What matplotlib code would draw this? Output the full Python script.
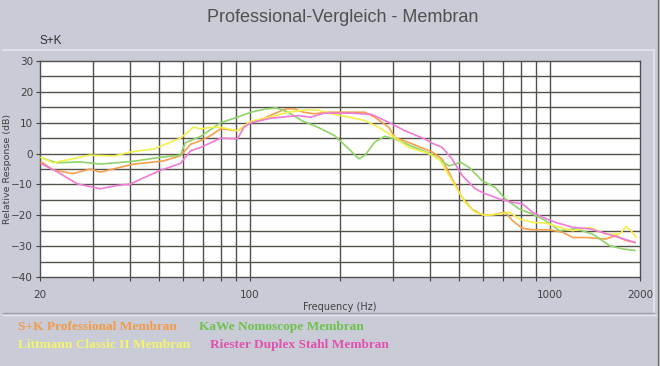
import matplotlib
matplotlib.use("Agg")
import matplotlib.pyplot as plt
from matplotlib.lines import Line2D
from matplotlib.ticker import FixedLocator

# S+K Professional Membran (orange)
f_sk = [20.2, 22.1, 25.8, 29.4, 31.8, 41, 51.6, 58.8, 63.5, 68.7, 74, 80, 91, 101, 112, 124,
        132, 141, 151, 164, 183, 202, 242, 261, 291, 305, 339, 384, 405, 438, 473, 511, 551,
        596, 643, 711, 751, 811, 876, 999, 1104, 1193, 1318, 1538, 1662, 1795, 1924]
db_sk = [-2.7, -5.3, -6.5, -5, -6, -3.4, -2.4, -0.7, 3, 4.2, 5.8, 8, 7.4, 10, 11.5, 13.4,
         14.5, 14.5, 13.4, 12.9, 13.4, 13.4, 13.4, 11.8, 8.5, 5.2, 3.6, 1.4, 0.6, -1.8, -8.2, -14.2, -18,
         -19.9, -19.9, -19, -21.7, -24.2, -24.7, -24.7, -25.5, -27.2, -27.2, -27.7, -26.6, -28.2, -28.8]

# KaWe Nomoscope Membran (green)
f_kawe = [20.2, 22.8, 27.2, 31.8, 41, 50.5, 58.8, 61, 68.7, 80, 91, 101, 112, 122.5, 134, 149,
          169, 192, 214, 231, 242, 261, 282, 305, 347, 405, 430, 462, 505, 539, 596, 659, 711,
          793, 876, 968, 1079, 1221, 1392, 1588, 1754, 1924]
db_kawe = [-1.4, -3, -2.7, -3.4, -2.5, -1.2, -0.5, 3.5, 5.6, 10, 11.8, 13.4, 14.4, 14.8, 13.5, 10.7,
           8.5, 5.8, 1.5, -1.7, -0.6, 3.7, 5.6, 4.7, 2.4, -0.3, -2, -4, -2.8, -4.5, -8.8, -11, -14.7,
           -18, -19.6, -21.7, -25, -24.4, -26.1, -29.9, -30.9, -31.4]

# Littmann Classic II Membran (yellow)
f_litt = [20.2, 22.1, 29.4, 35.3, 40, 47.9, 58.8, 65, 68.7, 74, 80, 91, 101, 118, 134, 152, 169,
          187, 214, 242, 269, 298, 339, 384, 405, 430, 448, 484, 522, 564, 610, 679, 734, 793,
          876, 968, 1079, 1193, 1360, 1538, 1714, 1795, 1866, 1940]
db_litt = [-1.2, -3, -0.5, -0.8, 0.5, 1.5, 5, 8.6, 8, 8.5, 8.5, 7.4, 10.5, 11.9, 13.4, 14.1, 14.1,
           12.9, 11.8, 10.7, 8.5, 5.8, 2, 0.4, -0.5, -2, -5, -10.4, -15.8, -19, -20, -19.6, -19, -21.2,
           -22.3, -22.5, -23.9, -25, -23.9, -26.1, -26.1, -23.6, -25, -27.1]

# Riester Duplex Stahl Membran (pink)
f_ries = [20.2, 22.8, 26.6, 31.8, 36.3, 40, 44, 50.5, 58.8, 63.5, 68.7, 80, 91, 95.7, 101, 118,
          145, 160, 177, 219, 255, 291, 329, 384, 405, 438, 473, 511, 564, 610, 679, 751, 811,
          876, 946, 1046, 1193, 1360, 1624, 1924]
db_ries = [-3.3, -5.9, -9.8, -11.4, -10.3, -9.9, -8, -5.4, -3.2, 0.9, 2, 5, 4.8, 8.5, 10, 11.5,
           12.3, 11.8, 13.1, 13.1, 12.7, 10.1, 7.4, 4.7, 3.4, 2, -1.8, -7.1, -11.4, -13, -14.7, -15.8, -16.3,
           -19, -20.6, -22.3, -23.9, -24.4, -26.6, -28.8]

series = [
    ("S+K Professional Membran", f_sk, db_sk, "#f4a04c", "#f29a48"),
    ("KaWe Nomoscope Membran", f_kawe, db_kawe, "#8fd468", "#6cc24a"),
    ("Littmann Classic II Membran", f_litt, db_litt, "#f2f04a", "#f6f46a"),
    ("Riester Duplex Stahl Membran", f_ries, db_ries, "#f07ad8", "#e24fae"),
]

grid_freqs = [30, 40, 50, 60, 70, 80, 90, 100, 200, 300, 400, 500, 600, 700, 800, 900, 1000]
tick_labels = {20: "20", 100: "100", 1000: "1000", 2000: "2000"}

bg = "#c9ccd6"
fig = plt.figure(figsize=(6.6, 3.66), dpi=100, facecolor=bg)
ax = fig.add_axes([40 / 660, 1 - 277 / 366, 600 / 660, 216 / 366])
ax.set_facecolor("white")

for f in grid_freqs:
    ax.axvline(f, color="#52524a", lw=1.0, zorder=1)
for y in range(-35, 30, 5):
    ax.axhline(y, color="#52524a", lw=1.0, zorder=1)

for name, f, d, c, tc in series:
    ax.plot(f, d, color=c, lw=1.2, zorder=3)

ax.set_xscale("log")
ax.set_xlim(20, 2000)
ax.set_ylim(-40, 30)
xt = [20] + grid_freqs + [2000]
ax.xaxis.set_major_locator(FixedLocator(xt))
ax.xaxis.set_minor_locator(FixedLocator([]))
ax.set_xticklabels([tick_labels.get(v, "") for v in xt])
ax.set_yticks(range(-40, 31, 10))
ax.tick_params(axis="both", labelsize=7.5, labelcolor="#404040", color="#404040",
               length=3, width=0.8, direction="out", pad=2)
ax.tick_params(axis="x", pad=6)
for s in ax.spines.values():
    s.set_color("#505050")
    s.set_linewidth(1.0)

ax.set_xlabel("Frequency (Hz)", fontsize=7, color="#404040", labelpad=2)
ax.set_ylabel("Relative Response (dB)", fontsize=6.8, color="#404040")
ax.yaxis.set_label_coords(-28 / 600, 0.5)

fig.text(343 / 660, 1 - 18 / 366, "Professional-Vergleich - Membran", ha="center", va="center",
         fontsize=13, color="#505050", family="Liberation Sans")
fig.text(40 / 660, 1 - 41 / 366, "S+K", ha="left", va="center", fontsize=8.5,
         color="#303030", family="Liberation Sans")

# panel edges
fig.add_artist(Line2D([3 / 660, 654 / 660], [1 - 50 / 366, 1 - 50 / 366], color="#e4e6ec", lw=1.2))
fig.add_artist(Line2D([654 / 660, 654 / 660], [1 - 50 / 366, 1 - 313 / 366], color="#e4e6ec", lw=1.2))
fig.add_artist(Line2D([3 / 660, 654 / 660], [1 - 313 / 366, 1 - 313 / 366], color="#9a9ca6", lw=1.0))
fig.add_artist(Line2D([3 / 660, 656 / 660], [1 - 315 / 366, 1 - 315 / 366], color="#e4e6ec", lw=1.0))
fig.add_artist(Line2D([658 / 660, 658 / 660], [0, 1], color="#707070", lw=1.0))

legend_pos = [(18, 327), (199, 327), (18, 345), (210, 345)]
for (name, f, d, c, tc), (lx, ly) in zip(series, legend_pos):
    fig.text(lx / 660, 1 - ly / 366, name, ha="left", va="center", fontsize=9.6,
             color=tc, family="Liberation Serif", weight="bold")

plt.savefig("out.png", dpi=100, facecolor=bg)
